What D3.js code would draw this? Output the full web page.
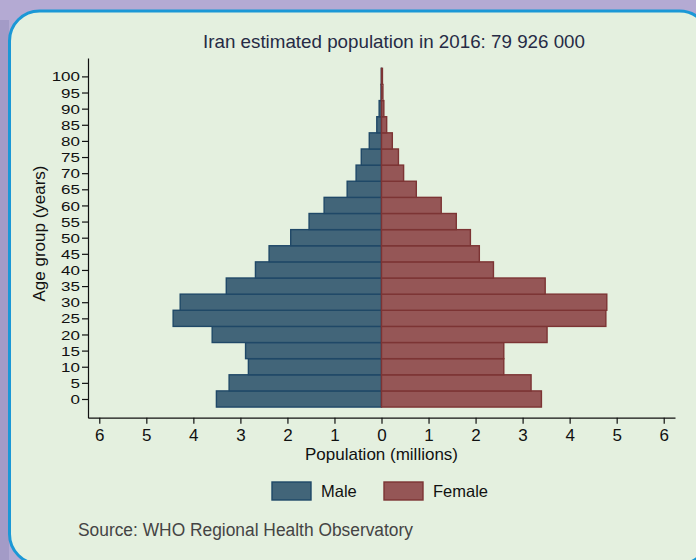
<!DOCTYPE html>
<html>
<head>
<meta charset="utf-8">
<script src="https://cdn.jsdelivr.net/npm/d3@7"></script>
<style>
  body { margin: 0; background: #b4aad3; }
  svg { display: block; }
  text { font-family: "Liberation Sans", Arial, sans-serif; }
</style>
</head>
<body>
<div id="chart"></div>
<script>
// age groups, lower bound of each 5-year band
var ageGroups = [0, 5, 10, 15, 20, 25, 30, 35, 40, 45, 50, 55, 60, 65, 70, 75, 80, 85, 90, 95, 100];
// population in millions
var male   = [3.51, 3.24, 2.83, 2.89, 3.60, 4.43, 4.28, 3.30, 2.68, 2.39, 1.93, 1.54, 1.22, 0.73, 0.54, 0.43, 0.26, 0.10, 0.05, 0.01, 0.004];
var female = [3.40, 3.18, 2.60, 2.60, 3.52, 4.77, 4.79, 3.48, 2.38, 2.08, 1.89, 1.59, 1.27, 0.74, 0.47, 0.36, 0.23, 0.11, 0.05, 0.03, 0.02];
var xTicks = [-6, -5, -4, -3, -2, -1, 0, 1, 2, 3, 4, 5, 6];
var seriesNames = ["Male", "Female"];

var width = 696,
    height = 560;

var fills = { Male: "#426579", Female: "#955656" },
    strokes = { Male: "#1f4867", Female: "#7c3434" };

var svg = d3.select("#chart").append("svg")
    .attr("width", width)
    .attr("height", height);

// page backdrop around the rounded panel
svg.append("rect")
    .attr("x", 0).attr("y", 0)
    .attr("width", width).attr("height", height)
    .attr("fill", "#b4aad3");
svg.append("rect")
    .attr("x", 0).attr("y", 20)
    .attr("width", 9).attr("height", height - 20)
    .attr("fill", "#a39bc7");

svg.append("rect")
    .attr("x", 9.5).attr("y", 11)
    .attr("width", 700).attr("height", 553)
    .attr("rx", 30).attr("ry", 30)
    .attr("fill", "#e4f0df")
    .attr("stroke", "#1b98d6")
    .attr("stroke-width", 3);

var x = d3.scaleLinear()
    .domain([-6.24, 6.24])
    .range([88, 675]);

var y = d3.scaleLinear()
    .domain([-5.8, 105.7])
    .range([417.7, 58]);

var rows = ageGroups.map(function(a, i) {
  return { age: a, Male: male[i], Female: female[i] };
});

// bars: males to the left, females to the right
seriesNames.forEach(function(s) {
  svg.append("g").selectAll("rect")
      .data(rows)
    .enter().append("rect")
      .attr("x", function(d) { return s == "Male" ? x(-d[s]) : x(0); })
      .attr("width", function(d) { return Math.abs(x(d[s]) - x(0)); })
      .attr("y", function(d) { return y(d.age + 2.5); })
      .attr("height", function(d) { return y(d.age - 2.5) - y(d.age + 2.5); })
      .attr("fill", fills[s])
      .attr("stroke", strokes[s])
      .attr("stroke-width", 1.4);
});

// axes
var xAxis = svg.append("g")
    .attr("transform", "translate(0," + 417.7 + ")")
    .call(d3.axisBottom(x)
      .tickValues(xTicks)
      .tickSize(6)
      .tickSizeOuter(0)
      .tickFormat(function(d) { return Math.abs(d); }));

var yAxis = svg.append("g")
    .attr("transform", "translate(" + 88 + ",0)")
    .call(d3.axisLeft(y)
      .tickValues(ageGroups)
      .tickSize(6)
      .tickSizeOuter(0));

[xAxis, yAxis].forEach(function(g) {
  g.select(".domain").attr("stroke", "#111").attr("stroke-width", 1.2);
  g.selectAll(".tick line").attr("stroke", "#111").attr("stroke-width", 1.2);
  g.selectAll("text")
      .attr("fill", "#111")
      .style("font-family", "'Liberation Sans', Arial, sans-serif")
      .style("font-size", "17px");
});

xAxis.selectAll("text").attr("y", 11).attr("dy", "0.71em");

// tick labels on the age axis are squeezed vertically in the original
yAxis.selectAll(".tick text")
    .attr("x", 0).attr("dy", 0).attr("y", 0)
    .attr("transform", "translate(-8,4.6) scale(1,0.76)");

// titles
svg.append("text")
    .attr("x", 394).attr("y", 48.3)
    .attr("text-anchor", "middle")
    .attr("fill", "#262b45")
    .style("font-size", "18.5px")
    .attr("textLength", 382)
    .attr("lengthAdjust", "spacingAndGlyphs")
    .text("Iran estimated population in 2016: 79 926 000");

svg.append("text")
    .attr("transform", "translate(45,233.5) rotate(-90)")
    .attr("text-anchor", "middle")
    .attr("fill", "#111")
    .style("font-size", "17px")
    .text("Age group (years)");

svg.append("text")
    .attr("x", 381.5).attr("y", 460)
    .attr("text-anchor", "middle")
    .attr("fill", "#111")
    .style("font-size", "17px")
    .text("Population (millions)");

// legend
var legend = svg.append("g").selectAll("g")
    .data(seriesNames)
  .enter().append("g")
    .attr("transform", function(d, i) { return "translate(" + (272 + i * 112) + ",482)"; });

legend.append("rect")
    .attr("width", 39)
    .attr("height", 18)
    .attr("fill", function(d) { return fills[d]; })
    .attr("stroke", function(d) { return strokes[d]; })
    .attr("stroke-width", 1.4);

legend.append("text")
    .attr("x", 49)
    .attr("y", 15)
    .attr("fill", "#111")
    .style("font-size", "16.5px")
    .text(function(d) { return d; });

svg.append("text")
    .attr("x", 78).attr("y", 536)
    .attr("fill", "#444")
    .style("font-size", "18px")
    .attr("textLength", 335)
    .attr("lengthAdjust", "spacingAndGlyphs")
    .text("Source: WHO Regional Health Observatory");
</script>
</body>
</html>
